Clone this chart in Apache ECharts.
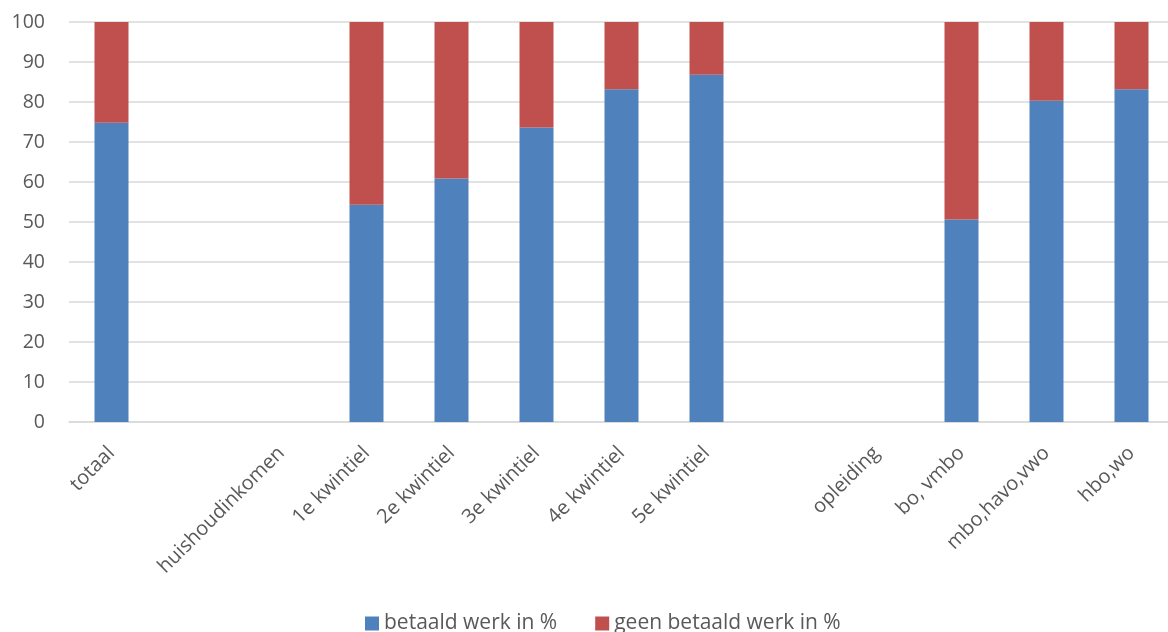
<!DOCTYPE html>
<html lang="nl">
<head>
    <meta charset="utf-8">
    <title>Betaald werk</title>
    <script src="https://cdn.jsdelivr.net/npm/echarts@6/dist/echarts.min.js"></script>
    <style>
        html, body { margin: 0; padding: 0; background: #fff; overflow: hidden; }
        #main { width: 1174px; height: 632px; }
    </style>
</head>
<body>
<div id="main"></div>
<script>
    // categorieen (lege posities zijn kopjes zonder waarde)
    var categories = ['totaal', '', 'huishoudinkomen', '1e kwintiel', '2e kwintiel', '3e kwintiel',
        '4e kwintiel', '5e kwintiel', '', 'opleiding', 'bo, vmbo', 'mbo,havo,vwo', 'hbo,wo'];
    var betaald = [74.8, null, null, 54.3, 60.9, 73.6, 83.2, 86.8, null, null, 50.6, 80.3, 83.2];
    var geenBetaald = [25.2, null, null, 45.7, 39.1, 26.4, 16.8, 13.2, null, null, 49.4, 19.7, 16.8];
    var seriesNames = ['betaald werk in %', 'geen betaald werk in %'];

    var myChart = echarts.init(document.getElementById('main'));
    var font = '"Open Sans", "Liberation Sans", sans-serif';

    var option = {
        animation: false,
        textStyle: { fontFamily: font },
        legend: {
            data: seriesNames,
            bottom: -7,
            left: 360,
            itemWidth: 14,
            itemHeight: 14,
            itemGap: 38,
            icon: 'rect',
            textStyle: { fontSize: 21, color: '#595959', fontFamily: font }
        },
        grid: {
            left: 69,
            right: 0,
            top: 22,
            bottom: 210,
            containLabel: false
        },
        xAxis: {
            type: 'category',
            data: categories,
            axisTick: { show: false },
            axisLine: { lineStyle: { color: '#d9d9d9', width: 1.5 } },
            axisLabel: {
                rotate: 45,
                interval: 0,
                margin: 28,
                fontSize: 20,
                color: '#595959',
                fontFamily: font
            }
        },
        yAxis: {
            type: 'value',
            min: 0,
            max: 100,
            interval: 10,
            axisLine: { show: false },
            axisTick: { show: false },
            splitLine: { lineStyle: { color: '#d9d9d9', width: 1.5 } },
            axisLabel: { fontSize: 19.5, color: '#595959', margin: 24, fontFamily: font }
        },
        series: [
            {
                name: seriesNames[0],
                type: 'bar',
                stack: 'totaal',
                barWidth: 34,
                data: betaald,
                itemStyle: { color: '#4F81BD' }
            },
            {
                name: seriesNames[1],
                type: 'bar',
                stack: 'totaal',
                barWidth: 34,
                data: geenBetaald,
                itemStyle: { color: '#C0504D' }
            }
        ]
    };

    myChart.setOption(option);
</script>
</body>
</html>
